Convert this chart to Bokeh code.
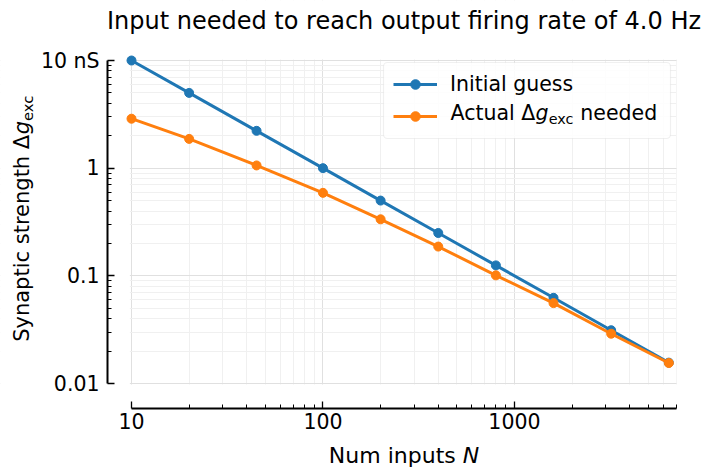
import math

from bokeh.embed import file_html
from bokeh.models import BoxAnnotation, FixedTicker, Label, Legend, LegendItem
from bokeh.plotting import figure
from bokeh.resources import INLINE

# ---- data -----------------------------------------------------------------
num_inputs = [10, 20, 45, 100, 200, 400, 800, 1600, 3200, 6400]
initial_guess = [10.0, 5.0, 2.222, 1.0, 0.5, 0.25, 0.125, 0.0625, 0.03125, 0.015625]
actual_needed = [2.88, 1.87, 1.06, 0.59, 0.335, 0.187, 0.101, 0.0558, 0.029, 0.0155]

x_major = [10, 100, 1000]
x_minor = [20, 30, 40, 50, 60, 70, 80, 90,
           200, 300, 400, 500, 600, 700, 800, 900,
           2000, 3000, 4000, 5000, 6000, 7000]
x_tick_labels = ["10", "100", "1000"]

y_major = [0.01, 0.1, 1.0, 10.0]
y_minor = [0.02, 0.03, 0.04, 0.05, 0.06, 0.07, 0.08, 0.09,
           0.2, 0.3, 0.4, 0.5, 0.6, 0.7, 0.8, 0.9,
           2.0, 3.0, 4.0, 5.0, 6.0, 7.0, 8.0, 9.0]
y_tick_labels = ["0.01", "0.1", "1", "10 nS"]

title_text = "Input needed to reach output firing rate of 4.0 Hz"

BLUE = "#1f77b4"
ORANGE = "#ff7f0e"
FONT = "DejaVu Sans"

# ---- layout (canvas pixels) ---------------------------------------------------
W, H = 706, 470
DATA_L, DATA_R = 131, 676      # data area, left/right
DATA_T, DATA_B = 60, 383       # data area, top/bottom
SPINE_X, SPINE_Y = 107, 408    # detached spines
X_LO, X_HI = 10.0, 7020.0
Y_LO, Y_HI = 0.01, 10.0

# the plot frame spans the whole canvas; axes are pinned inside it
x_dec = (DATA_R - DATA_L) / (math.log10(X_HI) - math.log10(X_LO))
y_dec = (DATA_B - DATA_T) / (math.log10(Y_HI) - math.log10(Y_LO))


def x_at(cx):
    return 10 ** (math.log10(X_LO) + (cx - DATA_L) / x_dec)


def y_at(cy):
    return 10 ** (math.log10(Y_LO) + (DATA_B - cy) / y_dec)


# DejaVu Sans advance widths (font units per 2048 em)
ADV = {'A': 1401, 'c': 1126, 't': 803, 'u': 1298, 'a': 1255, 'l': 569, ' ': 651,
       'Δ': 1401, 'g': 1300, 'e': 1260, 'x': 1212, 'n': 1298, 'd': 1300,
       'S': 1300, 'y': 1212, 'p': 1300, 'i': 569, 's': 1067, 'r': 842,
       'h': 1298, 'N': 1532, 'm': 1995}


def text_w(s, size):
    return sum(ADV.get(ch, 1250) for ch in s) / 2048.0 * size


# Label's "alphabetic" anchor sits a bit above the drawn baseline
BASE_FIX = 0.33

p = figure(
    frame_width=W, frame_height=H, min_border=0,
    x_axis_type="log", y_axis_type="log",
    x_range=(x_at(0), x_at(W)), y_range=(y_at(H), y_at(0)),
    output_backend="svg", toolbar_location=None,
    background_fill_color="white", border_fill_color="white",
)
p.outline_line_color = None

x_ticker = FixedTicker(ticks=x_major, minor_ticks=x_minor)
y_ticker = FixedTicker(ticks=y_major, minor_ticks=y_minor)

xa, ya = p.xaxis[0], p.yaxis[0]
xa.ticker = x_ticker
ya.ticker = y_ticker
p.xgrid[0].ticker = x_ticker
p.ygrid[0].ticker = y_ticker
xa.fixed_location = y_at(SPINE_Y)
ya.fixed_location = x_at(SPINE_X)
xa.bounds = (X_LO, X_HI)
ya.bounds = (Y_LO, Y_HI)
xa.major_label_overrides = {float(v): t for v, t in zip(x_major, x_tick_labels)}
ya.major_label_overrides = {float(v): t for v, t in zip(y_major, y_tick_labels)}

for ax in (xa, ya):
    ax.axis_line_color = "black"
    ax.axis_line_width = 2
    ax.major_tick_line_color = "black"
    ax.minor_tick_line_color = "black"
    ax.major_tick_line_width = 1.3
    ax.minor_tick_line_width = 1
    ax.major_tick_in = 7
    ax.major_tick_out = 0
    ax.minor_tick_in = 4
    ax.minor_tick_out = 0
    ax.major_label_text_font = FONT
    ax.major_label_text_font_size = "20.5px"
    ax.major_label_text_color = "black"
xa.major_label_standoff = 4
ya.major_label_standoff = 8

for g in (p.xgrid[0], p.ygrid[0]):
    g.grid_line_color = "#e0e0e0"
    g.grid_line_width = 1
    g.minor_grid_line_color = "#f0f0f0"
    g.minor_grid_line_width = 1

# white margins keep the grid inside the data area
for kw in (dict(right=X_LO / 1.02), dict(left=X_HI * 1.002),
           dict(top=Y_LO / 1.02), dict(bottom=Y_HI * 1.02)):
    p.add_layout(BoxAnnotation(fill_color="white", fill_alpha=1, line_color=None,
                               level="underlay", **kw))

# ---- legend frame (drawn behind the legend entries) ---------------------------
LEG_L, LEG_T = 383, 62
LEG_PAD, LEG_SPACING = 10, 8
GLYPH_W, ROW_H, STANDOFF, LABEL_W = 44, 24, 13, 210
LEG_H = 2 * LEG_PAD + 2 * ROW_H + LEG_SPACING
LEG_W = 2 * LEG_PAD + GLYPH_W + STANDOFF + LABEL_W
LEG_FS = 20.5

p.add_layout(BoxAnnotation(
    left=LEG_L, right=LEG_L + LEG_W, top=H - LEG_T, bottom=H - (LEG_T + LEG_H),
    left_units="screen", right_units="screen", top_units="screen", bottom_units="screen",
    fill_color="white", fill_alpha=0.85, line_color="#cccccc", line_width=1.2,
    border_radius=4, level="underlay"))

# ---- series ---------------------------------------------------------------
l1 = p.line(num_inputs, initial_guess, line_width=3, color=BLUE, line_join="round")
s1 = p.scatter(num_inputs, initial_guess, size=9, color=BLUE)
l2 = p.line(num_inputs, actual_needed, line_width=3, color=ORANGE, line_join="round")
s2 = p.scatter(num_inputs, actual_needed, size=9, color=ORANGE)

# ---- legend entries -----------------------------------------------------------
legend = Legend(
    items=[LegendItem(label="Initial guess", renderers=[l1, s1]),
           LegendItem(label="", renderers=[l2, s2])],
    location=(LEG_L, H - (LEG_T + LEG_H)),
    padding=LEG_PAD, spacing=LEG_SPACING, margin=0,
    glyph_width=GLYPH_W, glyph_height=ROW_H, label_height=ROW_H,
    label_width=LABEL_W, label_standoff=STANDOFF,
    label_text_font=FONT, label_text_font_size=f"{LEG_FS}px", label_text_color="black",
    border_line_color="white", border_line_alpha=0, background_fill_alpha=0,
)
p.add_layout(legend)


def piece(cx, cy, text, size, italic=False, vertical=False, align="left"):
    """Place a text run with its baseline at canvas point (cx, cy)."""
    fix = BASE_FIX * size
    if vertical:
        x, y, angle = cx - fix, H - cy, math.pi / 2
    else:
        x, y, angle = cx, H - cy + fix, 0.0
    p.add_layout(Label(x=x, y=y, x_units="screen", y_units="screen", text=text,
                       text_font=FONT, text_font_size=f"{size}px",
                       text_font_style="italic" if italic else "normal",
                       text_color="black", text_align=align,
                       text_baseline="alphabetic", angle=angle))


# second legend row: "Actual Δg_exc needed"
row2_x = LEG_L + LEG_PAD + GLYPH_W + STANDOFF
row2_base = 119.5
sub_fs = LEG_FS * 0.7
x0 = row2_x
piece(x0, row2_base, "Actual Δ", LEG_FS)
x0 += text_w("Actual Δ", LEG_FS)
piece(x0, row2_base, "g", LEG_FS, italic=True)
x0 += text_w("g", LEG_FS)
piece(x0, row2_base + 4, "exc", sub_fs)
x0 += text_w("exc", sub_fs) + text_w(" ", LEG_FS)
piece(x0, row2_base, "needed", LEG_FS)

# ---- title and axis labels --------------------------------------------------
data_cx = (DATA_L + DATA_R) / 2
piece(data_cx, 28, title_text, 24, align="center")

XL_FS = 22
xl_w = text_w("Num inputs N", XL_FS)
xl_x = data_cx - xl_w / 2
piece(xl_x, 462.7, "Num inputs", XL_FS)
piece(xl_x + text_w("Num inputs ", XL_FS), 462.7, "N", XL_FS, italic=True)

YL_FS = 21
yl_sub = YL_FS * 0.7
yl_len = text_w("Synaptic strength Δg", YL_FS) + text_w("exc", yl_sub)
yl_base_x = 28
yl_start = 218 + yl_len / 2
piece(yl_base_x, yl_start, "Synaptic strength Δ", YL_FS, vertical=True)
off = text_w("Synaptic strength Δ", YL_FS)
piece(yl_base_x, yl_start - off, "g", YL_FS, italic=True, vertical=True)
off += text_w("g", YL_FS)
piece(yl_base_x + 4.2, yl_start - off, "exc", yl_sub, vertical=True)

open("out.html", "w").write(file_html(p, INLINE))
